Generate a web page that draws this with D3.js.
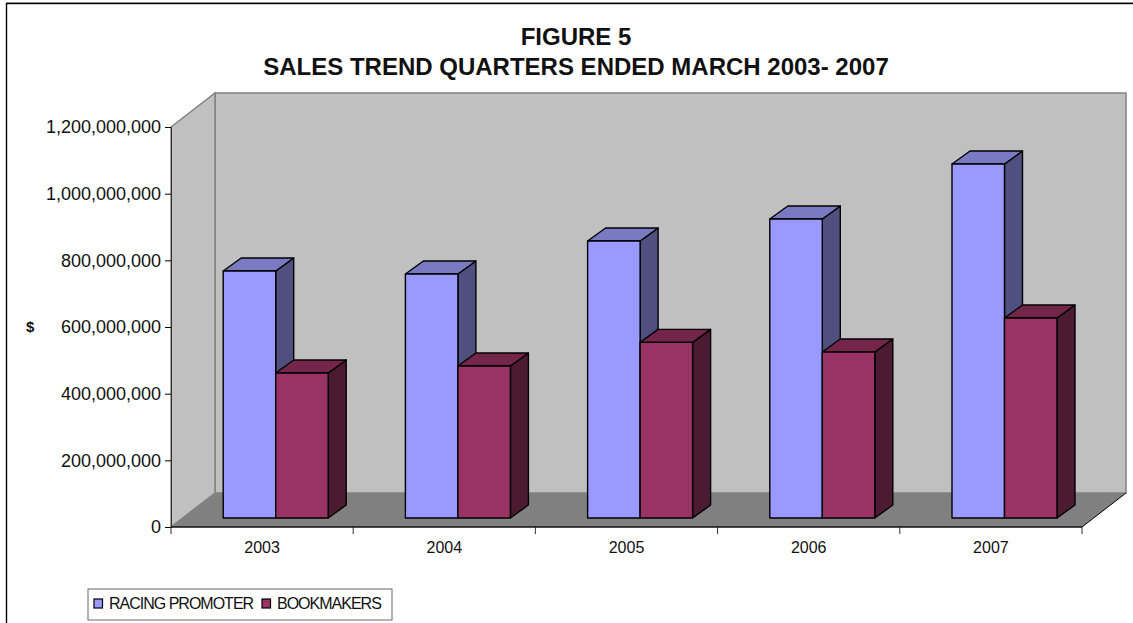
<!DOCTYPE html>
<html>
<head>
<meta charset="utf-8">
<script src="https://cdn.jsdelivr.net/npm/d3@7"></script>
<style>
    html, body { margin: 0; padding: 0; background: #fff; overflow: hidden; }
    svg { display: block; }
    text { font-family: "Liberation Sans", Arial, sans-serif; fill: #111; }
</style>
</head>
<body>
<div id="chart"></div>
<script>
/* chart values */
var years = ["2003", "2004", "2005", "2006", "2007"];
var racingPromoter = [741000000, 732000000, 831000000, 897000000, 1062000000];
var bookmakers = [435000000, 456000000, 527000000, 498000000, 600000000];
var seriesNames = ["RACING PROMOTER", "BOOKMAKERS"];
var yTicks = [0, 200000000, 400000000, 600000000, 800000000, 1000000000, 1200000000];

var width = 1133;
var height = 623;

/* plot front plane, and how far the box and bars go back */
var plot = { left: 171, right: 1082, top: 127, bottom: 527 };
var floorDepth = { x: 44, y: -34 };
var barDepth = { x: 18, y: -13 };
var barShift = { x: 13.6, y: -9 };

var colors = {
    front: ["#9999ff", "#993366"],
    top: ["#7a7ac2", "#732649"],
    side: ["#4f4f80", "#4d1a33"]
};

var svg = d3.select("#chart").append("svg")
    .attr("width", width)
    .attr("height", height);

// outer frame, the sheet runs off the bottom and right
svg.append("line")
    .attr("x1", 6).attr("x2", width)
    .attr("y1", 2.5).attr("y2", 2.5)
    .attr("stroke", "#b0b0b0");
svg.append("rect")
    .attr("x", 6.5).attr("y", 3.5)
    .attr("width", 1140).attr("height", 640)
    .attr("fill", "#fff")
    .attr("stroke", "#000")
    .attr("stroke-width", 1.4);

svg.append("text")
    .attr("x", 576).attr("y", 45)
    .attr("text-anchor", "middle")
    .style("font-size", "24px").style("font-weight", "bold")
    .text("FIGURE 5");
svg.append("text")
    .attr("x", 576).attr("y", 75)
    .attr("text-anchor", "middle")
    .style("font-size", "24px").style("font-weight", "bold")
    .text("SALES TREND QUARTERS ENDED MARCH 2003- 2007");

var x = d3.scaleBand().domain(years).range([plot.left, plot.right]);
var y = d3.scaleLinear().domain([0, 1200000000]).range([plot.bottom, plot.top]);
var inner = d3.scaleBand().domain(seriesNames).range([0, 105]);
var groupOffset = (x.bandwidth() - 105) / 2;

function poly(points) {
    return points.map(function (p) { return p.join(","); }).join(" ");
}

/* walls and floor of the box */
var L = plot.left, R = plot.right, T = plot.top, B = plot.bottom;
var dx = floorDepth.x, dy = floorDepth.y;

svg.append("polygon") // back wall
    .attr("points", poly([[L + dx, T + dy], [R + dx, T + dy], [R + dx, B + dy], [L + dx, B + dy]]))
    .attr("fill", "#c0c0c0").attr("stroke", "#808080").attr("stroke-width", 1.5);
svg.append("polygon") // side wall
    .attr("points", poly([[L, T], [L + dx, T + dy], [L + dx, B + dy], [L, B]]))
    .attr("fill", "#c0c0c0").attr("stroke", "#808080").attr("stroke-width", 1.5);
svg.append("polygon") // floor
    .attr("points", poly([[L, B], [L + dx, B + dy], [R + dx, B + dy], [R, B]]))
    .attr("fill", "#808080").attr("stroke", "none");
svg.append("line") // floor right edge
    .attr("x1", R).attr("y1", B).attr("x2", R + dx).attr("y2", B + dy)
    .attr("stroke", "#000");

/* bars, back to front within a group */
function drawBar(i, s, value) {
    var x0 = x(years[i]) + groupOffset + inner(seriesNames[s]) + barShift.x;
    var x1 = x0 + inner.bandwidth();
    var yTop = y(value) + barShift.y;
    var yBase = y(0) + barShift.y;
    var g = svg.append("g")
        .attr("stroke", "#000").attr("stroke-width", 1.4).attr("stroke-linejoin", "round");
    g.append("polygon") // side
        .attr("points", poly([[x1, yTop], [x1 + barDepth.x, yTop + barDepth.y], [x1 + barDepth.x, yBase + barDepth.y], [x1, yBase]]))
        .attr("fill", colors.side[s]);
    g.append("polygon") // top
        .attr("points", poly([[x0, yTop], [x0 + barDepth.x, yTop + barDepth.y], [x1 + barDepth.x, yTop + barDepth.y], [x1, yTop]]))
        .attr("fill", colors.top[s]);
    g.append("rect") // front
        .attr("x", x0).attr("y", yTop)
        .attr("width", x1 - x0).attr("height", yBase - yTop)
        .attr("fill", colors.front[s]);
}

years.forEach(function (d, i) {
    drawBar(i, 0, racingPromoter[i]);
    drawBar(i, 1, bookmakers[i]);
});

/* axes */
var yAxis = d3.axisLeft(y)
    .tickValues(yTicks)
    .tickSize(6)
    .tickPadding(4)
    .tickFormat(d3.format(","));
var yG = svg.append("g")
    .attr("transform", "translate(" + plot.left + ",0)")
    .call(yAxis);
yG.selectAll("text").style("font-size", "18px");
yG.selectAll("line").attr("stroke", "#000");
yG.select(".domain").attr("stroke", "#333");

var xAxis = d3.axisBottom(x)
    .tickSize(0)
    .tickPadding(15);
var xG = svg.append("g")
    .attr("transform", "translate(0," + plot.bottom + ")")
    .call(xAxis);
xG.select(".domain").remove();
xG.selectAll("text").style("font-size", "16px");

// category separators sit on the band edges
var xEdges = years.map(function (d) { return x(d); }).concat([plot.right]);
svg.append("g").selectAll("line")
    .data(xEdges)
    .enter().append("line")
    .attr("x1", function (d) { return d; })
    .attr("x2", function (d) { return d; })
    .attr("y1", plot.bottom)
    .attr("y2", plot.bottom + 7)
    .attr("stroke", "#333");
svg.append("line")
    .attr("x1", plot.left).attr("x2", plot.right)
    .attr("y1", plot.bottom).attr("y2", plot.bottom)
    .attr("stroke", "#111").attr("stroke-width", 1.4);

svg.append("text")
    .attr("x", 26).attr("y", 332)
    .style("font-size", "15px").style("font-weight", "bold")
    .text("$");

/* legend */
var legend = svg.append("g");
legend.append("rect")
    .attr("x", 88).attr("y", 589)
    .attr("width", 304).attr("height", 31)
    .attr("fill", "#fff").attr("stroke", "#666");
var legendSwatchX = [94, 262];
var legendTextX = [109, 277];
seriesNames.forEach(function (name, i) {
    legend.append("rect")
        .attr("x", legendSwatchX[i]).attr("y", 599)
        .attr("width", 8.5).attr("height", 9)
        .attr("fill", colors.front[i])
        .attr("stroke", "#000").attr("stroke-width", 1.2);
    legend.append("text")
        .attr("x", legendTextX[i]).attr("y", 609)
        .style("font-size", "16px").style("letter-spacing", "-1px")
        .text(name);
});
</script>
</body>
</html>
